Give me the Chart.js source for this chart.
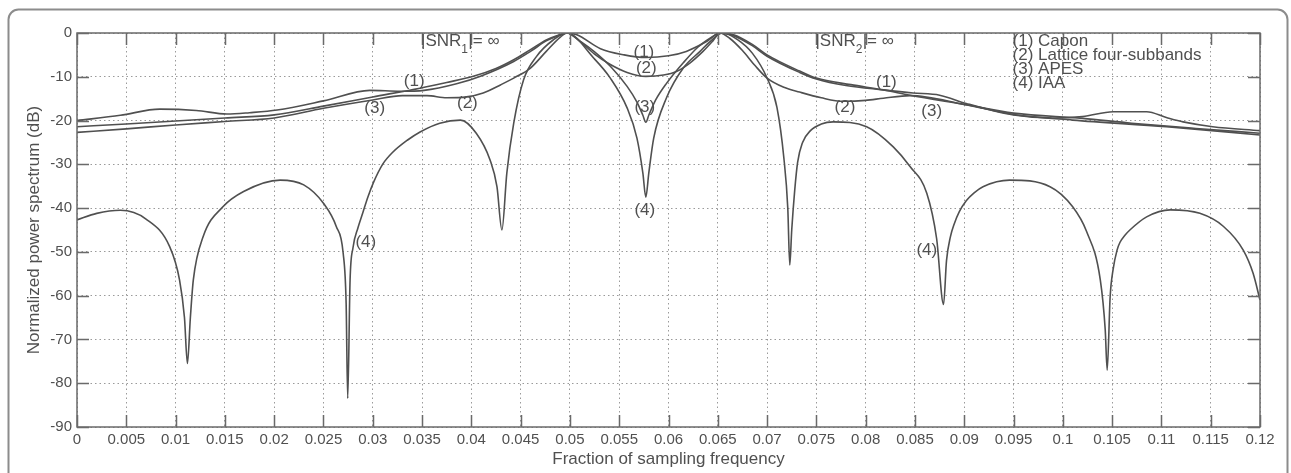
<!DOCTYPE html>
<html>
<head>
<meta charset="utf-8">
<script src="https://cdn.jsdelivr.net/npm/chart.js@4.4.1/dist/chart.umd.min.js"></script>
<style>
html, body { margin: 0; padding: 0; background: #fff; }
</style>
</head>
<body>
<canvas id="myChart" width="1291" height="473"></canvas>
<script>
// spectrum data (x = fraction of fs, y = dB)
var caponFreq = [0, 0.005, 0.01, 0.015, 0.02, 0.025, 0.03, 0.0348, 0.0375, 0.0402, 0.0425, 0.0443, 0.046, 0.0476, 0.0488, 0.0497,
    0.0507, 0.0531, 0.0555, 0.0577, 0.06, 0.0618, 0.0639, 0.0652,
    0.0666, 0.0685, 0.07, 0.0733, 0.075, 0.0785, 0.0818, 0.0845, 0.0902, 0.095, 0.102, 0.107, 0.1135, 0.12];
var caponDb = [-21.4, -20.8, -20.1, -19.4, -18.7, -16.7, -14.6, -12.6, -11.3, -9.9, -8.1, -6.1, -3.8, -1.6, -0.5, 0,
    -0.4, -3.6, -5.0, -5.6, -5.2, -4.2, -1.9, 0,
    -0.4, -2.6, -5.0, -8.7, -10.3, -11.8, -13.0, -14.2, -16.4, -18.3, -19.5, -20.6, -21.8, -22.9];

var latticeFreq = [0, 0.005, 0.01, 0.015, 0.02, 0.025, 0.03, 0.033, 0.0355, 0.0375, 0.0395, 0.0412, 0.043, 0.0443, 0.046, 0.0476, 0.049, 0.0497,
    0.051, 0.0525, 0.0541, 0.0558, 0.0577, 0.0595, 0.0608, 0.0622, 0.0635, 0.0645, 0.0652,
    0.0662, 0.0675, 0.0688, 0.07, 0.0717, 0.0733, 0.0755, 0.0777, 0.08, 0.0818, 0.0845, 0.09, 0.095, 0.101, 0.1105, 0.12];
var latticeDb = [-22.7, -21.9, -21.0, -20.2, -19.4, -17.2, -15.3, -14.3, -14.3, -14.8, -14.6, -13.7, -11.8, -10.3, -8.0, -4.2, -1.0, 0,
    -1.9, -4.8, -7.2, -9.0, -9.9, -9.6, -8.8, -6.8, -4.2, -1.8, 0,
    -1.2, -4.0, -7.5, -10.3, -12.4, -13.5, -14.8, -15.6, -15.4, -14.9, -14.3, -16.3, -18.6, -19.9, -21.4, -23.3];

var apesFreq = [0, 0.0044, 0.0084, 0.0121, 0.0152, 0.0175, 0.0203, 0.025, 0.0297, 0.0328, 0.0352, 0.0385, 0.041, 0.0443, 0.046, 0.0476, 0.0488, 0.0497,
    0.051, 0.0525, 0.0541, 0.0558, 0.0568, 0.0574, 0.0577, 0.058, 0.0587, 0.0598, 0.0615, 0.063, 0.0645, 0.0652,
    0.0666, 0.0685, 0.07, 0.0733, 0.075, 0.078, 0.0818, 0.0848, 0.0875, 0.0902, 0.095, 0.099, 0.102, 0.1051, 0.1085, 0.1105, 0.1122, 0.1152, 0.12];
var apesDb = [-20.0, -18.8, -17.4, -17.7, -18.5, -18.2, -17.6, -15.5, -13.1, -13.3, -13.1, -11.6, -9.8, -6.5, -4.2, -1.8, -0.6, 0,
    -1.8, -4.3, -7.6, -12.2, -15.8, -18.8, -20.4, -18.8, -15.3, -11.5, -6.8, -3.2, -0.8, 0,
    -0.6, -2.9, -5.3, -9.0, -10.5, -12.0, -13.0, -13.7, -14.2, -16.1, -18.7, -19.4, -19.1, -18.0, -18.0, -19.3, -20.3, -21.4, -22.3];

var iaaFreq = [0, 0.002, 0.0044, 0.007, 0.0094, 0.0104, 0.0109, 0.0112, 0.0115, 0.0118, 0.0128, 0.0148, 0.0169, 0.0206, 0.023, 0.025, 0.0263, 0.027, 0.0273, 0.02746,
    0.0277, 0.028, 0.0285, 0.029, 0.0295, 0.0301, 0.031, 0.032, 0.0335, 0.0348, 0.0368, 0.0389, 0.0405, 0.0419, 0.0426, 0.0431, 0.0436, 0.0443, 0.0453, 0.0466, 0.0483, 0.0497,
    0.0524, 0.0541, 0.0558, 0.0568, 0.0574, 0.0577, 0.058, 0.0585, 0.0598, 0.0615, 0.0632, 0.0643, 0.0655,
    0.067, 0.0685, 0.07, 0.071, 0.0717, 0.0721, 0.0723, 0.0725, 0.0728, 0.0731, 0.0736, 0.0744, 0.0755, 0.0767, 0.0801, 0.0828, 0.0845, 0.0862, 0.0872, 0.0879,
    0.0882, 0.0886, 0.089, 0.0895, 0.0902, 0.091, 0.0919, 0.0946, 0.0987, 0.101, 0.1024, 0.1038, 0.1043, 0.1045, 0.1048, 0.1051, 0.1055, 0.1058, 0.1063,
    0.1068, 0.1085, 0.1109, 0.1139, 0.1163, 0.1183, 0.1193, 0.12];
var iaaDb = [-42.7, -41.2, -40.5, -42.5, -48.8, -56.4, -65, -75.5, -65, -56.4, -46.5, -39.7, -36.2, -33.6, -34.7, -38.9, -44.2, -50.3, -61.7, -83.5,
    -56.4, -49, -44.5, -41, -37.5, -34, -30, -27.3, -24.5, -22.6, -20.6, -19.9, -22.9, -29, -35.1, -45, -32, -20.6, -10.7, -5.4, -1.6, 0,
    -5.7, -10.3, -17.1, -24, -32, -37.5, -32, -24, -14.8, -8, -4.2, -1.8, 0,
    -1.5, -4.6, -10.3, -17, -28.5, -40, -53, -45, -36, -29.5, -25, -22.3, -20.8, -20.3, -21.4, -26, -30.5, -36.6, -47, -62,
    -52, -46.5, -43.5, -40.8, -38.3, -36.5, -35.1, -33.6, -35.1, -39.7, -45.3, -56.4, -67.8, -77, -60.2, -54, -49.6, -47.8, -46.2,
    -45, -42, -40.4, -41.2, -44.2, -49.6, -54.9, -61];

var xTicks = { min: 0, max: 0.12, step: 0.005 };
var yTicks = { min: -90, max: 0, step: 10 };

var legendLines = ['(1) Capon', '(2) Lattice four-subbands', '(3) APES', '(4) IAA'];

// curve tags
var noteText = ['(1)', '(3)', '(2)', '(1)', '(2)', '(3)', '(4)', '(4)', '(1)', '(2)', '(3)', '(4)'];
var noteFreq = [0.0342, 0.0302, 0.0396, 0.0575, 0.05775, 0.0576, 0.0576, 0.0293, 0.0821, 0.0779, 0.0867, 0.0862];
var noteDb = [-11.1, -17.2, -16.1, -4.35, -8.0, -17.0, -40.6, -47.7, -11.2, -16.9, -18.0, -49.6];

var INK = '#505050';
var FONT = "'Liberation Sans', Arial, sans-serif";

function pts(xs, ys) {
    return xs.map(function (x, i) { return { x: x, y: ys[i] }; });
}

function line(label, xs, ys) {
    return {
        label: label,
        data: pts(xs, ys),
        borderColor: INK,
        borderWidth: 1.6,
        pointRadius: 0,
        fill: false,
        cubicInterpolationMode: 'monotone'
    };
}

var framePlugin = {
    id: 'frame',
    beforeDraw: function (chart) {
        var c = chart.ctx;
        c.save();
        c.fillStyle = '#fff';
        c.fillRect(0, 0, chart.width, chart.height);
        c.strokeStyle = '#8c8c8c';
        c.lineWidth = 2;
        c.beginPath();
        c.roundRect(8.5, 9.5, 1279, 520, 10);
        c.stroke();
        c.restore();
    },
    afterDraw: function (chart) {
        var c = chart.ctx, a = chart.chartArea;
        var xs = chart.scales.x, ys = chart.scales.y;
        c.save();
        c.strokeStyle = '#6a6a6a';
        c.lineWidth = 1.5;
        c.strokeRect(a.left, a.top, a.right - a.left, a.bottom - a.top);
        // inward tick marks
        c.beginPath();
        xs.ticks.forEach(function (t) {
            var px = Math.round(xs.getPixelForValue(t.value)) + 0.5;
            c.moveTo(px, a.bottom); c.lineTo(px, a.bottom - 12);
            c.moveTo(px, a.top); c.lineTo(px, a.top + 12);
        });
        ys.ticks.forEach(function (t) {
            var py = Math.round(ys.getPixelForValue(t.value)) + 0.5;
            c.moveTo(a.left, py); c.lineTo(a.left + 12, py);
            c.moveTo(a.right, py); c.lineTo(a.right - 12, py);
        });
        c.stroke();

        c.fillStyle = INK;
        // curve tags
        c.font = '17px ' + FONT;
        c.textAlign = 'center';
        c.textBaseline = 'middle';
        for (var i = 0; i < noteText.length; i++) {
            c.fillText(noteText[i], xs.getPixelForValue(noteFreq[i]), ys.getPixelForValue(noteDb[i]));
        }
        // SNR tags
        c.textAlign = 'left';
        c.textBaseline = 'alphabetic';
        [[0.035, '1'], [0.075, '2']].forEach(function (s) {
            var x0 = xs.getPixelForValue(s[0]) - 1;
            var base = a.top + 13;
            c.font = '17px ' + FONT;
            c.fillText('|SNR', x0, base);
            var w = c.measureText('|SNR').width;
            c.font = '12px ' + FONT;
            c.fillText(s[1], x0 + w, base + 7);
            c.font = '17px ' + FONT;
            c.fillText('|= \u221e', x0 + w + 7, base);
        });
        // legend text
        c.font = '17px ' + FONT;
        var lx = xs.getPixelForValue(0.095) - 1;
        legendLines.forEach(function (t, k) {
            c.fillText(t, lx, a.top + 12.5 + k * 14);
        });
        c.restore();
    }
};

var ctx = document.getElementById('myChart').getContext('2d');
var myChart = new Chart(ctx, {
    type: 'line',
    data: {
        datasets: [
            line('Capon', caponFreq, caponDb),
            line('Lattice four-subbands', latticeFreq, latticeDb),
            line('APES', apesFreq, apesDb),
            line('IAA', iaaFreq, iaaDb)
        ]
    },
    options: {
        responsive: false,
        animation: false,
        layout: { padding: { left: 0, top: 33, right: 31, bottom: 0 } },
        plugins: { legend: { display: false }, tooltip: { enabled: false } },
        scales: {
            x: {
                type: 'linear',
                min: xTicks.min,
                max: xTicks.max,
                afterFit: function (s) { s.height = 46; },
                afterBuildTicks: function (s) {
                    var t = [];
                    for (var k = 0; k <= Math.round((xTicks.max - xTicks.min) / xTicks.step); k++) {
                        t.push({ value: +(xTicks.min + k * xTicks.step).toFixed(3) });
                    }
                    s.ticks = t;
                },
                ticks: {
                    color: INK,
                    font: { family: FONT, size: 15 },
                    padding: 4,
                    maxRotation: 0,
                    autoSkip: false,
                    callback: function (v) { return String(+Number(v).toFixed(3)); }
                },
                grid: { color: '#9a9a9a', lineWidth: 1, drawTicks: false },
                border: { display: false, dash: [1.5, 3] },
                title: {
                    display: true,
                    text: 'Fraction of sampling frequency',
                    color: INK,
                    font: { family: FONT, size: 17 },
                    padding: { top: 0, bottom: 3 }
                }
            },
            y: {
                min: yTicks.min,
                max: yTicks.max,
                afterFit: function (s) { s.width = 77; },
                ticks: {
                    stepSize: yTicks.step,
                    color: INK,
                    font: { family: FONT, size: 15 },
                    padding: 5
                },
                grid: { color: '#9a9a9a', lineWidth: 1, drawTicks: false },
                border: { display: false, dash: [1.5, 3] },
                title: {
                    display: true,
                    text: 'Normalized power spectrum (dB)',
                    color: INK,
                    font: { family: FONT, size: 17 },
                    padding: { top: 24, bottom: 0 }
                }
            }
        }
    },
    plugins: [framePlugin]
});
</script>
</body>
</html>
